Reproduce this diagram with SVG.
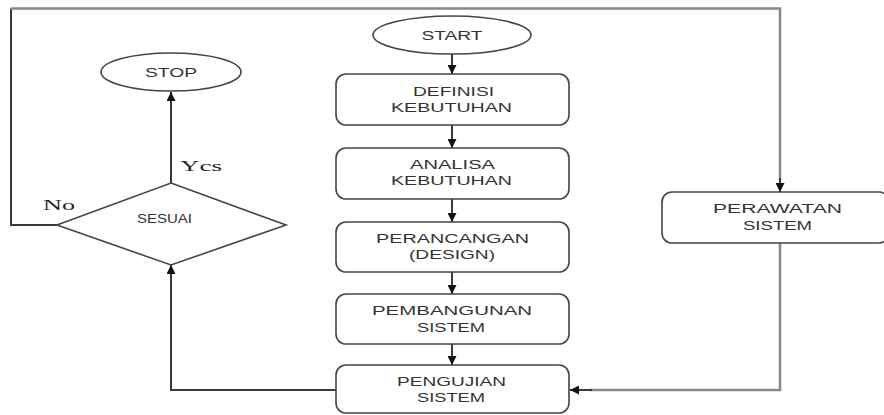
<svg xmlns="http://www.w3.org/2000/svg" width="884" height="415" viewBox="0 0 884 415">
<defs>
<marker id="arr" viewBox="0 0 10 10" refX="10" refY="5" markerWidth="9" markerHeight="9" markerUnits="userSpaceOnUse" orient="auto">
<path d="M0,0 L10,5 L0,10 Z" fill="#111"/>
</marker>
<style>
.box{fill:#fff;stroke:#444;stroke-width:1.6}
.t{font-family:"Liberation Sans","DejaVu Sans",sans-serif;font-size:12px;fill:#333;text-anchor:middle}
.s{font-family:"Liberation Serif","DejaVu Serif",serif;font-size:15px;fill:#222;text-anchor:start}
.c{fill:none;stroke:#3a3a3a;stroke-width:2}
.g{fill:none;stroke:#888;stroke-width:2.5}
</style>
</defs>
<rect width="884" height="415" fill="#fff"/>
<g id="connectors">
<line class="c" x1="452" y1="54" x2="452" y2="74" marker-end="url(#arr)"/>
<line class="c" x1="452" y1="125" x2="452" y2="148" marker-end="url(#arr)"/>
<line class="c" x1="452" y1="199" x2="452" y2="222" marker-end="url(#arr)"/>
<line class="c" x1="452" y1="272" x2="452" y2="294" marker-end="url(#arr)"/>
<line class="c" x1="452" y1="344" x2="452" y2="365" marker-end="url(#arr)"/>
<polyline class="c" points="336,390 171,390 171,265" marker-end="url(#arr)"/>
<line class="c" x1="171" y1="183" x2="171" y2="92" marker-end="url(#arr)"/>
<polyline class="c" points="57,225 11,225 11,8.5"/>
<polyline class="g" points="11,8.5 780,8.5 780,180"/>
<line class="c" x1="780" y1="178" x2="780" y2="192" marker-end="url(#arr)"/>
<polyline class="g" points="780,243 780,390 590,390"/>
<line class="c" x1="592" y1="390" x2="570" y2="390" marker-end="url(#arr)"/>
<text class="s" x="180" y="171" textLength="42" lengthAdjust="spacingAndGlyphs">Ycs</text>
<text class="s" x="43" y="210" textLength="32" lengthAdjust="spacingAndGlyphs">No</text>
</g>
<g id="start">
<ellipse class="box" cx="452" cy="35" rx="79" ry="19"/>
<text class="t" x="452" y="39.5" textLength="61" lengthAdjust="spacingAndGlyphs">START</text>
</g>
<g id="stop">
<ellipse class="box" cx="171" cy="72" rx="70" ry="19"/>
<text class="t" x="171" y="76.5" textLength="52" lengthAdjust="spacingAndGlyphs">STOP</text>
</g>
<g id="definisi">
<rect class="box" x="336" y="74" width="233" height="51" rx="10"/>
<text class="t" x="453.5" y="95.5" textLength="81" lengthAdjust="spacingAndGlyphs">DEFINISI</text>
<text class="t" x="451.5" y="111.5" textLength="121" lengthAdjust="spacingAndGlyphs">KEBUTUHAN</text>
</g>
<g id="analisa">
<rect class="box" x="336" y="148" width="233" height="51" rx="10"/>
<text class="t" x="452.5" y="168.5" textLength="85" lengthAdjust="spacingAndGlyphs">ANALISA</text>
<text class="t" x="451.5" y="185" textLength="121" lengthAdjust="spacingAndGlyphs">KEBUTUHAN</text>
</g>
<g id="perancangan">
<rect class="box" x="336" y="222" width="233" height="50" rx="10"/>
<text class="t" x="452.5" y="243" textLength="153" lengthAdjust="spacingAndGlyphs">PERANCANGAN</text>
<text class="t" x="452" y="259" textLength="86" lengthAdjust="spacingAndGlyphs">(DESIGN)</text>
</g>
<g id="pembangunan">
<rect class="box" x="336" y="294" width="233" height="50" rx="10"/>
<text class="t" x="452" y="314.5" textLength="160" lengthAdjust="spacingAndGlyphs">PEMBANGUNAN</text>
<text class="t" x="451" y="331.5" textLength="68" lengthAdjust="spacingAndGlyphs">SISTEM</text>
</g>
<g id="pengujian">
<rect class="box" x="336" y="365" width="233" height="48" rx="10"/>
<text class="t" x="451.5" y="385.5" textLength="109" lengthAdjust="spacingAndGlyphs">PENGUJIAN</text>
<text class="t" x="451" y="402" textLength="68" lengthAdjust="spacingAndGlyphs">SISTEM</text>
</g>
<g id="sesuai">
<polygon class="box" points="171,183 286,225 171,265 57,225"/>
<text class="t" x="164.5" y="222.5" textLength="55" lengthAdjust="spacingAndGlyphs">SESUAI</text>
</g>
<g id="perawatan">
<rect class="box" x="662" y="192" width="227" height="51" rx="10"/>
<text class="t" x="777.5" y="213" textLength="129" lengthAdjust="spacingAndGlyphs">PERAWATAN</text>
<text class="t" x="777.5" y="229.5" textLength="69" lengthAdjust="spacingAndGlyphs">SISTEM</text>
</g>
</svg>
